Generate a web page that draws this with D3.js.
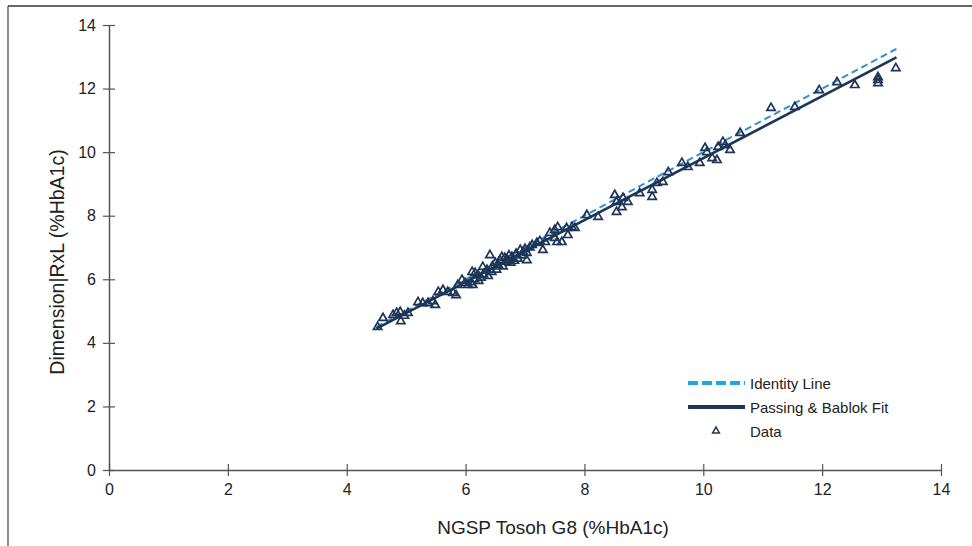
<!DOCTYPE html>
<html><head><meta charset="utf-8">
<script src="https://cdn.jsdelivr.net/npm/d3@7"></script>
<style>body{margin:0;background:#fff}svg{display:block}text{font-family:"Liberation Sans",Arial,sans-serif}</style>
</head><body>
<svg id="c" width="972" height="546"></svg>
<script>
const xTicks = [0,2,4,6,8,10,12,14];
const yTicks = [0,2,4,6,8,10,12,14];
const xTitle = "NGSP Tosoh G8 (%HbA1c)";
const yTitle = "Dimension|RxL (%HbA1c)";
const legendLabels = ["Identity Line","Passing & Bablok Fit","Data"];
const identityLine = [[4.5,4.5],[13.25,13.25]];
const fitLine = [[4.5,4.45],[13.25,12.98]];
const dataX = [4.52,4.61,4.78,4.84,4.90,4.91,4.97,5.03,5.20,5.28,5.37,5.45,5.49,5.54,5.62,5.70,5.79,5.84,5.87,5.94,5.99,6.04,6.09,6.12,6.11,6.16,6.15,6.21,6.22,6.26,6.29,6.30,6.36,6.38,6.41,6.44,6.45,6.50,6.52,6.55,6.58,6.61,6.63,6.66,6.68,6.71,6.73,6.76,6.78,6.82,6.85,6.88,6.92,6.95,6.97,7.00,7.03,7.03,7.08,7.12,7.20,7.25,7.30,7.34,7.42,7.50,7.50,7.55,7.54,7.62,7.70,7.72,7.79,7.84,8.04,8.23,8.51,8.54,8.54,8.63,8.65,8.73,8.93,9.14,9.14,9.22,9.32,9.41,9.64,9.74,9.94,10.03,10.06,10.15,10.23,10.25,10.33,10.37,10.45,10.62,11.14,11.54,11.95,12.25,12.55,12.94,12.94,12.94,13.24];
const dataY = [4.50,4.78,4.88,4.94,4.97,4.68,4.85,4.94,5.28,5.25,5.25,5.31,5.19,5.60,5.66,5.60,5.57,5.50,5.82,5.98,5.88,5.82,5.91,5.82,6.23,6.20,6.00,6.13,5.95,6.05,6.39,6.15,6.29,6.10,6.76,6.23,6.40,6.51,6.30,6.45,6.60,6.70,6.40,6.67,6.55,6.60,6.75,6.52,6.70,6.58,6.80,6.65,6.92,6.75,6.86,6.95,6.83,6.60,7.00,7.08,7.14,7.20,6.92,7.17,7.46,7.55,7.30,7.64,7.17,7.17,7.61,7.39,7.64,7.61,8.02,7.96,8.65,8.43,8.12,8.27,8.56,8.43,8.71,8.81,8.59,9.03,9.06,9.37,9.66,9.53,9.66,10.13,10.00,9.81,9.75,10.16,10.32,10.22,10.07,10.60,11.39,11.42,11.95,12.20,12.11,12.36,12.27,12.17,12.64];

const svg = d3.select("#c");
const x = d3.scaleLinear().domain([0,14]).range([109,941]);
const y = d3.scaleLinear().domain([0,14]).range([470,25]);
const navy = "#1d3557", cyan = "#1aa9e6", axisCol = "#555";

// frame
svg.append("line").attr("x1",8).attr("x2",972).attr("y1",6).attr("y2",6).attr("stroke","#666").attr("stroke-width",2);
svg.append("line").attr("x1",8).attr("x2",8).attr("y1",6).attr("y2",546).attr("stroke","#444").attr("stroke-width",1.2);

// axes
const gx = svg.append("g").attr("transform","translate(0,470)")
  .call(d3.axisBottom(x).tickValues(xTicks).tickSize(0).tickPadding(14).tickFormat(d3.format("d")));
gx.select(".domain").attr("stroke",axisCol).attr("stroke-width",1.5);
gx.selectAll(".tick").append("line").attr("y1",-6).attr("y2",6).attr("stroke",axisCol).attr("stroke-width",1.2);
gx.selectAll("text").attr("font-size",16).attr("fill","#222").attr("font-family","Liberation Sans, Arial, sans-serif");

const gy = svg.append("g").attr("transform","translate(109,0)")
  .call(d3.axisLeft(y).tickValues(yTicks).tickSize(0).tickPadding(13).tickFormat(d3.format("d")));
gy.select(".domain").attr("stroke",axisCol).attr("stroke-width",1.5);
gy.selectAll(".tick").append("line").attr("x1",-6).attr("x2",6).attr("stroke",axisCol).attr("stroke-width",1.2);
gy.selectAll("text").attr("font-size",16).attr("fill","#222").attr("font-family","Liberation Sans, Arial, sans-serif");

// titles
svg.append("text").attr("x",553).attr("y",534).attr("text-anchor","middle").attr("font-size",19).attr("fill","#222").text(xTitle);
svg.append("text").attr("transform","translate(64,262) rotate(-90)").attr("text-anchor","middle").attr("font-size",19.5).attr("fill","#222").text(yTitle);

// lines
const line = d3.line().x(d=>x(d[0])).y(d=>y(d[1]));
svg.append("path").datum(identityLine).attr("d",line).attr("fill","none").attr("stroke","#2f8fd6").attr("stroke-width",2).attr("stroke-dasharray","7,4");
svg.append("path").datum(fitLine).attr("d",line).attr("fill","none").attr("stroke",navy).attr("stroke-width",2.6);

// points
const tri = d3.symbol().type(d3.symbolTriangle).size(30);
svg.append("g").selectAll("path").data(dataX.map((v,i)=>[v,dataY[i]])).join("path")
  .attr("d",tri).attr("transform",d=>`translate(${x(d[0])},${y(d[1])})`)
  .attr("fill","none").attr("stroke",navy).attr("stroke-width",1.7);

// legend
const lg = svg.append("g");
lg.append("line").attr("x1",688).attr("x2",745).attr("y1",383).attr("y2",383).attr("stroke",cyan).attr("stroke-width",4).attr("stroke-dasharray","10,4");
lg.append("line").attr("x1",688).attr("x2",745).attr("y1",407).attr("y2",407).attr("stroke",navy).attr("stroke-width",4);
lg.append("path").attr("d",d3.symbol().type(d3.symbolTriangle).size(20)).attr("transform","translate(716,431)").attr("fill","none").attr("stroke",navy).attr("stroke-width",1.5);
legendLabels.forEach((t,i)=>{
  lg.append("text").attr("x",750).attr("y",389+i*24).attr("font-size",15).attr("fill","#222").text(t);
});
</script>
</body></html>
